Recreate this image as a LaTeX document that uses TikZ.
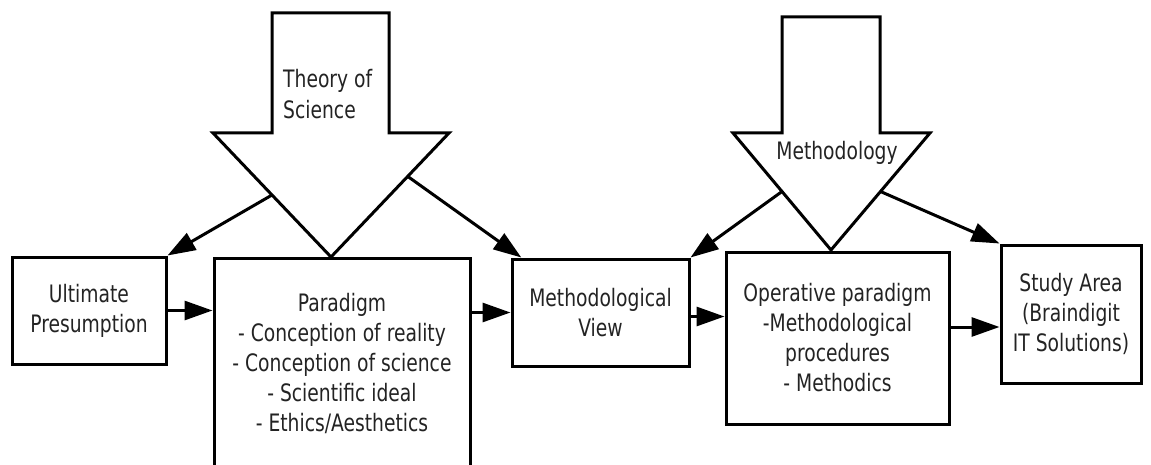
\documentclass[tikz,border=0pt]{standalone}
\usepackage{fontspec}
\setmainfont{DejaVu Sans}[FakeStretch=0.78]
\usepackage{xcolor}
\usetikzlibrary{arrows.meta,positioning,calc}
\definecolor{txtgrey}{RGB}{35,35,35}

\begin{document}
\begin{tikzpicture}[x=1pt, y=-1pt,
    stage/.style={rectangle, draw=black, line width=3pt, fill=white,
        font=\fontsize{24}{30}\selectfont, text=txtgrey, align=center,
        inner sep=0pt},
    biglabel/.style={font=\fontsize{24}{31}\selectfont, text=txtgrey, inner sep=0pt},
    bigarrow/.style={draw=black, line width=3pt, fill=white, line join=miter},
    arr/.style={-{Triangle[length=28pt, width=19pt]}, line width=3pt, black}
]
    \useasboundingbox (0,0) rectangle (1151,465);
    \clip (0,0) rectangle (1151,465);

    % big arrows from above
    \coordinate (ts-hl) at (213,133);
    \coordinate (ts-hr) at (449,133);
    \coordinate (ts-tip) at (331,257);
    \draw[bigarrow] (272,13) -- (389,13) -- (389,133) -- (ts-hr) -- (ts-tip)
        -- (ts-hl) -- (272,133) -- cycle;
    \node[biglabel, align=left, anchor=west] (tos) at (283,94) {Theory of\\Science};

    \coordinate (me-hl) at (733,133);
    \coordinate (me-hr) at (930,133);
    \coordinate (me-tip) at (831,250);
    \draw[bigarrow] (782,17) -- (880,17) -- (880,133) -- (me-hr) -- (me-tip)
        -- (me-hl) -- (782,133) -- cycle;
    \node[biglabel] (meth) at (837,153) {Methodology};

    % boxes
    \node[stage, minimum width=154, minimum height=107] (ult) at (89,310.5) {Ultimate\\Presumption};
    \node[stage, minimum width=256, minimum height=210] (par) at (342,363)
        {Paradigm\\- Conception of reality\\- Conception of science\\- Scientific ideal\\- Ethics/Aesthetics};
    \node[stage, minimum width=177, minimum height=107] (mview) at (600.5,312.5) {Methodological\\View};
    \node[stage, minimum width=223, minimum height=172] (op) at (837.5,338)
        {Operative paradigm\\-Methodological\\procedures\\- Methodics};
    \node[stage, minimum width=140, minimum height=138] (stu) at (1071,314) {Study Area\\(Braindigit\\IT Solutions)};

    % connectors
    \coordinate (s-in) at ($(stu.west)+(0,13)$);
    \draw[arr] (ult.east) -- (par.west |- ult.east);
    \draw[arr] (par.east |- mview.west) -- (mview.west);
    \draw[arr] ($(mview.east)+(0,4)$) -- ($(op.west |- mview.east)+(0,4)$);
    \draw[arr] (op.east |- s-in) -- (s-in);

    \draw[arr] ($(ts-hl)!0.5!(ts-tip)$) -- (ult.north east);
    \draw[arr] ($(ts-hr)!0.35!(ts-tip)$) -- ($(mview.north west)!0.06!(mview.north east)$);
    \draw[arr] ($(me-hl)!0.5!(me-tip)$) -- (mview.north east);
    \draw[arr] ($(me-hr)!0.5!(me-tip)$) -- (stu.north west);
\end{tikzpicture}
\end{document}
